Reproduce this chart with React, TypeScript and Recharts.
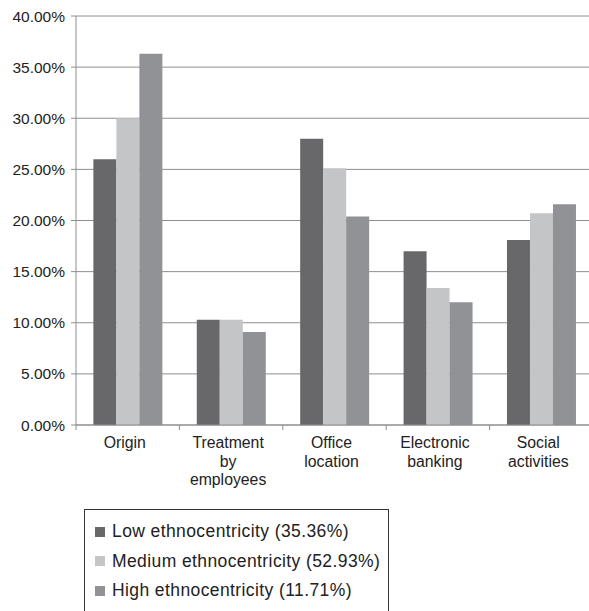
import React from "react";
import { BarChart, Bar, XAxis, YAxis, CartesianGrid, Legend } from "recharts";

const categories = ["Origin", "Treatment by employees", "Office location", "Electronic banking", "Social activities"];
const tickLabels = [["Origin"], ["Treatment", "by", "employees"], ["Office", "location"], ["Electronic", "banking"], ["Social", "activities"]];
const lowValues = [26.0, 10.3, 28.0, 17.0, 18.1];
const mediumValues = [30.0, 10.3, 25.1, 13.4, 20.7];
const highValues = [36.3, 9.1, 20.4, 12.0, 21.6];
const yTicks = [0, 5, 10, 15, 20, 25, 30, 35, 40];
const seriesNames = ["Low ethnocentricity (35.36%)", "Medium ethnocentricity (52.93%)", "High ethnocentricity (11.71%)"];
const seriesColors = ["#68686b", "#c4c5c7", "#919296"];

const data = categories.map((c, i) => ({
  name: c,
  idx: i,
  low: lowValues[i],
  medium: mediumValues[i],
  high: highValues[i],
}));

const FONT = '"Liberation Sans", Arial, Helvetica, sans-serif';
const GRID = "#8e8e8e";

const XTick = (props: any) => {
  const { x, y, payload, index } = props;
  const off = payload.offset || 0;
  const lines = tickLabels[payload.index ?? index] || [String(payload.value)];
  const isLast = (payload.index ?? index) === categories.length - 1;
  return (
    <g>
      <line x1={x - off} y1={y} x2={x - off} y2={y + 5} stroke={GRID} strokeWidth={1} />
      {isLast && <line x1={x + off} y1={y} x2={x + off} y2={y + 5} stroke={GRID} strokeWidth={1} />}
      <text x={x - 3} y={y} textAnchor="middle" fill="#222" fontSize={15.8} fontFamily={FONT}>
        {lines.map((l: string, i: number) => (
          <tspan key={i} x={x - 3} dy={i === 0 ? 23 : 18.5}>
            {l}
          </tspan>
        ))}
      </text>
    </g>
  );
};

const LegendContent = () => (
  <div
    style={{
      border: "1px solid #333",
      width: "100%",
      height: "100%",
      boxSizing: "border-box",
      paddingTop: 7,
      paddingLeft: 10,
      fontFamily: FONT,
    }}
  >
    {seriesNames.map((n, i) => (
      <div key={n} style={{ display: "flex", alignItems: "center", height: 29.5, fontSize: 17.5, letterSpacing: 0.4, color: "#222" }}>
        <span style={{ display: "inline-block", width: 10, height: 10, background: seriesColors[i], marginRight: 7 }} />
        <span>{n}</span>
      </div>
    ))}
  </div>
);

export default function App() {
  return (
    <div style={{ position: "absolute", left: 0, top: 0, width: 589, height: 611, overflow: "hidden", background: "#fff" }}>
      <BarChart
        width={600}
        height={611}
        data={data}
        margin={{ top: 16, right: 7, left: 0, bottom: 0 }}
        barCategoryGap="16.8%"
        barGap={0}
      >
        <CartesianGrid vertical={false} stroke={GRID} strokeWidth={1} />
        <XAxis
          dataKey="name"
          height={186}
          axisLine={{ stroke: GRID }}
          tickLine={false}
          tickSize={0}
          tickMargin={0}
          interval={0}
          tick={<XTick />}
        />
        <YAxis
          width={76}
          domain={[0, 40]}
          ticks={yTicks}
          interval={0}
          axisLine={{ stroke: GRID }}
          tickLine={{ stroke: GRID }}
          tickSize={5}
          tickMargin={6}
          tickFormatter={(v: number) => `${v.toFixed(2)}%`}
          tick={{ fill: "#222", fontSize: 15.5, fontFamily: FONT }}
        />
        <Legend
          layout="horizontal"
          verticalAlign="middle"
          align="center"
          wrapperStyle={{ left: 84, top: 509, width: 305, height: 104 }}
          content={<LegendContent />}
        />
        <Bar dataKey="low" name={seriesNames[0]} fill={seriesColors[0]} isAnimationActive={false} />
        <Bar dataKey="medium" name={seriesNames[1]} fill={seriesColors[1]} isAnimationActive={false} />
        <Bar dataKey="high" name={seriesNames[2]} fill={seriesColors[2]} isAnimationActive={false} />
      </BarChart>
    </div>
  );
}
